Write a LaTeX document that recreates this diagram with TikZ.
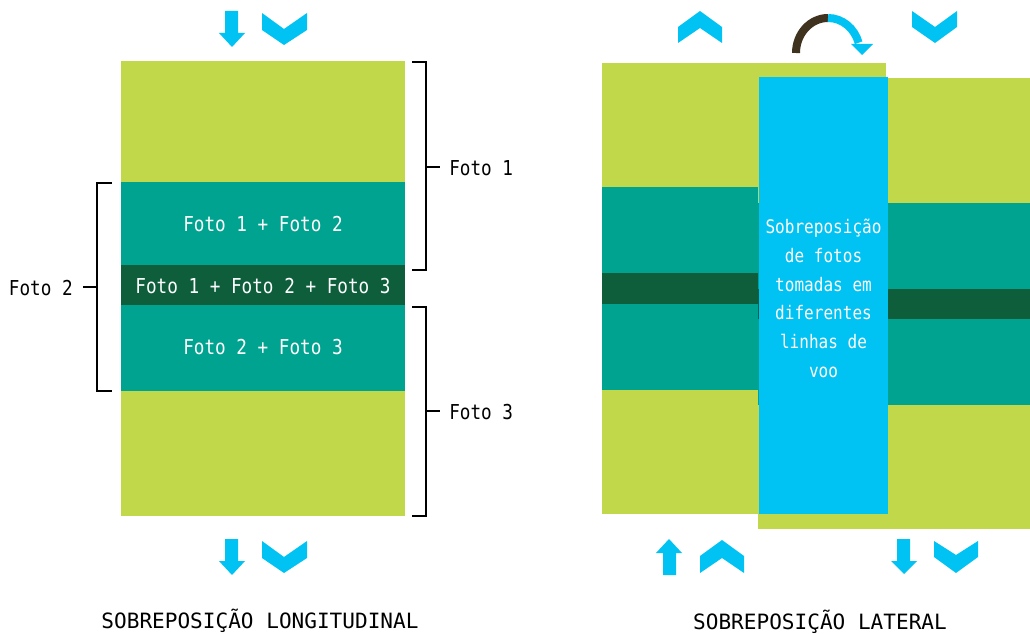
\documentclass[tikz,border=0pt]{standalone}
\usepackage{fontspec}
\setmainfont{DejaVu Sans Mono}
\newfontfamily\narrowmono[FakeStretch=0.86]{DejaVu Sans Mono}
\definecolor{lime}{HTML}{C0D84A}
\definecolor{teal2}{HTML}{00A390}
\definecolor{dgreen}{HTML}{0E5E3C}
\definecolor{sky}{HTML}{00C2F3}
\definecolor{brownc}{HTML}{3F3320}
\tikzset{
  arrowshape/.style={fill=sky, draw=none},
  brk/.style={line width=1.5pt, black},
  inlabel/.style={text=white, font=\narrowmono\fontsize{15.4}{18}\selectfont, inner sep=0pt},
  outlabel/.style={text=black, font=\narrowmono\fontsize{15.4}{18}\selectfont, inner sep=0pt},
  title/.style={text=black, font=\fontsize{15.8}{19}\selectfont, inner sep=0pt},
}
\begin{document}
\begin{tikzpicture}[x=0.75pt,y=-0.75pt]
\useasboundingbox (0,0) rectangle (1030,634);
% ---------- left panel ----------
\fill[lime] (121,61) rectangle (405,182);
\fill[teal2] (121,182) rectangle (405,265);
\fill[dgreen] (121,265) rectangle (405,305);
\fill[teal2] (121,305) rectangle (405,391);
\fill[lime] (121,391) rectangle (405,516);
\node[inlabel] (l12) at (263,224) {Foto 1 + Foto 2};
\node[inlabel] (l123) at (263,286) {Foto 1 + Foto 2 + Foto 3};
\node[inlabel] (l23) at (263,347) {Foto 2 + Foto 3};
% brackets
\draw[brk] (412,62) -- (426,62) -- (426,270) -- (412,270);
\draw[brk] (412,307) -- (426,307) -- (426,516) -- (412,516);
\draw[brk] (112,183) -- (97,183) -- (97,391) -- (112,391);
\node[outlabel, anchor=west] (f1) at (449,168) {Foto 1};
\node[outlabel, anchor=west] (f3) at (449,412) {Foto 3};
\node[outlabel, anchor=east] (f2) at (73,288) {Foto 2};
\coordinate (b1) at (426,167);
\coordinate (b3) at (426,411);
\coordinate (b2) at (97,287);
\draw[brk] (b1) -- ++(14,0);
\draw[brk] (b3) -- ++(14,0);
\draw[brk] (b2) -- ++(-14,0);
% arrows left top
\fill[arrowshape] (225,11) -- (238,11) -- (238,33) -- (245,33) -- (232,47) -- (219,33) -- (225,33) -- cycle;
\fill[arrowshape] (262,13) -- (284,29) -- (307,13) -- (307,30) -- (284,45) -- (262,30) -- cycle;
% arrows left bottom
\begin{scope}[yshift=-528*0.75pt]
\fill[arrowshape] (225,11) -- (238,11) -- (238,33) -- (245,33) -- (232,47) -- (219,33) -- (225,33) -- cycle;
\fill[arrowshape] (262,13) -- (284,29) -- (307,13) -- (307,30) -- (284,45) -- (262,30) -- cycle;
\end{scope}
\node[title] (t1) at (260,621) {SOBREPOSIÇÃO LONGITUDINAL};
% ---------- right panel ----------
% left photo
\fill[lime] (602,63) rectangle (886,187);
\fill[teal2] (602,187) rectangle (886,273);
\fill[dgreen] (602,273) rectangle (886,304);
\fill[teal2] (602,304) rectangle (886,390);
\fill[lime] (602,390) rectangle (886,514);
% right photo
\fill[lime] (758,78) rectangle (1030,203);
\fill[teal2] (758,203) rectangle (1030,289);
\fill[dgreen] (758,289) rectangle (1030,319);
\fill[teal2] (758,319) rectangle (1030,405);
\fill[lime] (758,405) rectangle (1030,529);
% overlap
\fill[sky] (759,77) rectangle (888,514);
\node[text=white, font=\narrowmono\fontsize{14}{21.5}\selectfont, align=center, inner sep=0pt] (ov) at (823.5,298.5)
  {Sobreposição\\de fotos\\tomadas em\\diferentes\\linhas de\\voo};
% curved arrow
\draw[brownc, line width=6pt] (796,53) arc[start angle=180, end angle=270, x radius=32, y radius=35];
\draw[sky, line width=6pt] (828,18) arc[start angle=270, end angle=343, x radius=32, y radius=35];
\fill[arrowshape] (851,44) -- (873,44) -- (862,55) -- cycle;
% top right chevrons
\fill[arrowshape] (678,27) -- (700,11) -- (722,27) -- (722,43) -- (700,28) -- (678,43) -- cycle;
\fill[arrowshape] (912,11) -- (935,27) -- (957,11) -- (957,27) -- (935,43) -- (912,27) -- cycle;
% bottom right
\fill[arrowshape] (663,575) -- (663,553) -- (656,553) -- (669,539) -- (682,553) -- (676,553) -- (676,575) -- cycle;
\fill[arrowshape] (700,556) -- (722,540) -- (744,556) -- (744,573) -- (722,558) -- (700,573) -- cycle;
\fill[arrowshape] (897,539) -- (910,539) -- (910,561) -- (917,561) -- (904,574) -- (891,561) -- (897,561) -- cycle;
\fill[arrowshape] (934,541) -- (956,555) -- (978,541) -- (978,557) -- (956,573) -- (934,557) -- cycle;
\node[title] (t2) at (820,622) {SOBREPOSIÇÃO LATERAL};
\end{tikzpicture}
\end{document}
